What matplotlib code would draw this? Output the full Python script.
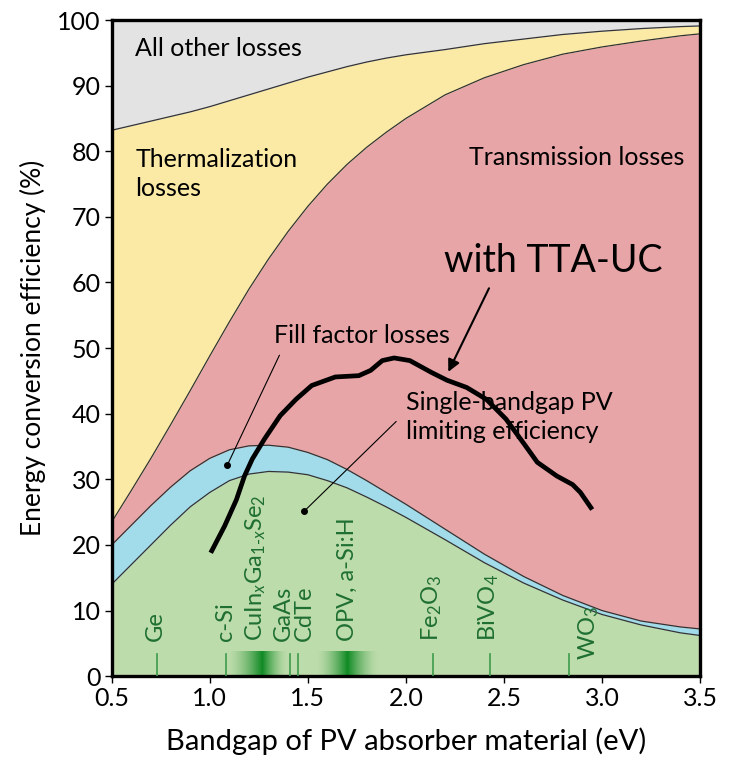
import numpy as np
import matplotlib
matplotlib.use('Agg')
import matplotlib.pyplot as plt
from matplotlib.colors import LinearSegmentedColormap

plt.rcParams['font.family'] = ['Lato', 'DejaVu Sans']
plt.rcParams['mathtext.fontset'] = 'custom'
plt.rcParams['mathtext.rm'] = 'Lato'
plt.rcParams['mathtext.it'] = 'Lato:italic'

# bandgap grid (eV) and stacked boundaries (%)
bandgap = [0.5, 0.6, 0.7, 0.8, 0.9, 1.0, 1.1, 1.2, 1.3, 1.4, 1.5, 1.6, 1.7, 1.8,
           1.9, 2.0, 2.2, 2.4, 2.6, 2.8, 3.0, 3.2, 3.4, 3.5]
sq_limit = [14, 17, 20, 23, 25.8, 28, 29.8, 30.8, 31.2, 31.1, 30.7, 29.8, 28.7, 27.3,
            25.8, 24.2, 20.8, 17.3, 14.2, 11.6, 9.4, 7.8, 6.6, 6.2]
fill_factor = [20, 23, 26, 28.8, 31.3, 33.2, 34.5, 35.1, 35.2, 34.9, 34.1, 33, 31.5, 29.8,
               28, 26.2, 22.4, 18.6, 15.2, 12.3, 10.0, 8.4, 7.5, 7.2]
thermal = [23.5, 28.3, 33.2, 38.3, 43.5, 48.8, 54.0, 59.0, 63.6, 67.8, 71.6, 75.0, 78.0, 80.6,
           82.9, 85.0, 88.6, 91.2, 93.2, 94.8, 95.9, 96.8, 97.6, 97.9]
other = [83.2, 83.9, 84.6, 85.3, 86.0, 86.8, 87.7, 88.6, 89.5, 90.4, 91.3, 92.1, 92.9, 93.6,
         94.2, 94.7, 95.5, 96.4, 97.1, 97.8, 98.3, 98.7, 99.0, 99.1]

# hand-drawn "with TTA-UC" curve
tta_x = [1.005, 1.076, 1.136, 1.177, 1.217, 1.278, 1.359, 1.44, 1.52, 1.64, 1.76, 1.82,
         1.88, 1.94, 2.02, 2.13, 2.21, 2.31, 2.41, 2.51, 2.61, 2.67, 2.77, 2.85, 2.89, 2.95]
tta_y = [18.8, 22.9, 26.9, 30.5, 33.1, 36.1, 39.7, 42.2, 44.3, 45.6, 45.8, 46.6,
         48.1, 48.5, 48.1, 46.3, 45.1, 44.0, 42.2, 39.2, 35.1, 32.6, 30.5, 29.2, 28, 25.4]

# materials: label, label x, marker line x
materials = ['Ge', 'c-Si', r'CuIn$_{\mathit{x}}$Ga$_{1\text{-}\mathit{x}}$Se$_2$', 'GaAs', 'CdTe',
             'OPV, a-Si:H', r'Fe$_2$O$_3$', r'BiVO$_4$', r'WO$_3$']
mat_label_x = [0.725, 1.08, 1.235, 1.375, 1.48, 1.70, 2.13, 2.42, 2.93]
mat_label_y = [5.3, 5.3, 5.3, 5.3, 5.3, 5.3, 5.3, 5.3, 2.4]
mat_line_x = [0.73, 1.085, 1.41, 1.45, 2.14, 2.43, 2.83]
# gradient bands: start, peak, end
bands = [(1.09, 1.27, 1.40), (1.54, 1.70, 1.86)]

c_gray = '#e3e3e3'
c_yellow = '#fbe9a6'
c_red = '#e8a5a7'
c_blue = '#a2dbe9'
c_green = '#bddcab'
c_dkgreen = '#1f6f33'

fig = plt.figure(figsize=(7.3, 7.71), dpi=100)
ax = fig.add_axes([0.153, 0.123, 0.806, 0.851])

x = np.array(bandgap)
ax.fill_between(x, 0, sq_limit, color=c_green, lw=0)
ax.fill_between(x, sq_limit, fill_factor, color=c_blue, lw=0)
ax.fill_between(x, fill_factor, thermal, color=c_red, lw=0)
ax.fill_between(x, thermal, other, color=c_yellow, lw=0)
ax.fill_between(x, other, 100, color=c_gray, lw=0)
for b in [sq_limit, fill_factor, thermal, other]:
    ax.plot(x, b, color='#333333', lw=0.9)

# gradient bands
green_cmap = LinearSegmentedColormap.from_list('g', [c_green, '#108a24'])
for x0, xp, x1 in bands:
    xs = np.linspace(x0, x1, 200)
    w = np.where(xs < xp, (xs - x0) / (xp - x0), (x1 - xs) / (x1 - xp))
    img = green_cmap(w ** 1.6)[np.newaxis, :, :]
    ax.imshow(img, extent=[x0, x1, 0, 3.8], aspect='auto', zorder=2)

for lx in mat_line_x:
    ax.plot([lx, lx], [0, 3.4], color='#3d9a4c', lw=1.2, zorder=3)
for lab, lx, ly in zip(materials, mat_label_x, mat_label_y):
    ax.text(lx, ly, lab, rotation=90, ha='center', va='bottom', fontsize=17,
            color=c_dkgreen, zorder=4)

# TTA-UC curve and annotation
ax.plot(tta_x, tta_y, color='black', lw=3.4, zorder=5, solid_capstyle='butt')
ax.text(2.75, 63.3, 'with TTA-UC', fontsize=27, ha='center', va='center', zorder=6)
ax.annotate('', xy=(2.21, 46.0), xytext=(2.43, 59.5),
            arrowprops=dict(arrowstyle='-|>', color='black', lw=1.5,
                            mutation_scale=18), zorder=6)

# region labels
ax.text(0.62, 95.7, 'All other losses', fontsize=18, va='center')
ax.text(0.62, 76.5, 'Thermalization\nlosses', fontsize=18, va='center', linespacing=1.3)
ax.text(3.42, 79, 'Transmission losses', fontsize=18, va='center', ha='right')
ax.text(1.33, 51.9, 'Fill factor losses', fontsize=18, va='center')
ax.text(2.0, 39.5, 'Single-bandgap PV\nlimiting efficiency', fontsize=18, va='center',
        linespacing=1.3)
ax.plot([1.355, 1.09], [48.9, 32.2], color='black', lw=0.8, zorder=6)
ax.plot([1.09], [32.2], 'o', color='black', ms=4, zorder=6)
ax.plot([1.95, 1.48], [38.8, 25.1], color='black', lw=0.8, zorder=6)
ax.plot([1.48], [25.1], 'o', color='black', ms=4, zorder=6)

ax.set_xlim(0.5, 3.5)
ax.set_ylim(0, 100)
ax.set_xticks([0.5, 1.0, 1.5, 2.0, 2.5, 3.0, 3.5])
ax.set_yticks(range(0, 101, 10))
ax.tick_params(direction='out', length=5, width=1.0, labelsize=18, pad=3)
for s in ax.spines.values():
    s.set_linewidth(2.4)
ax.set_xlabel('Bandgap of PV absorber material (eV)', fontsize=21, labelpad=12)
ax.set_ylabel('Energy conversion efficiency (%)', fontsize=19, labelpad=8)

fig.savefig('out.png', dpi=100)
